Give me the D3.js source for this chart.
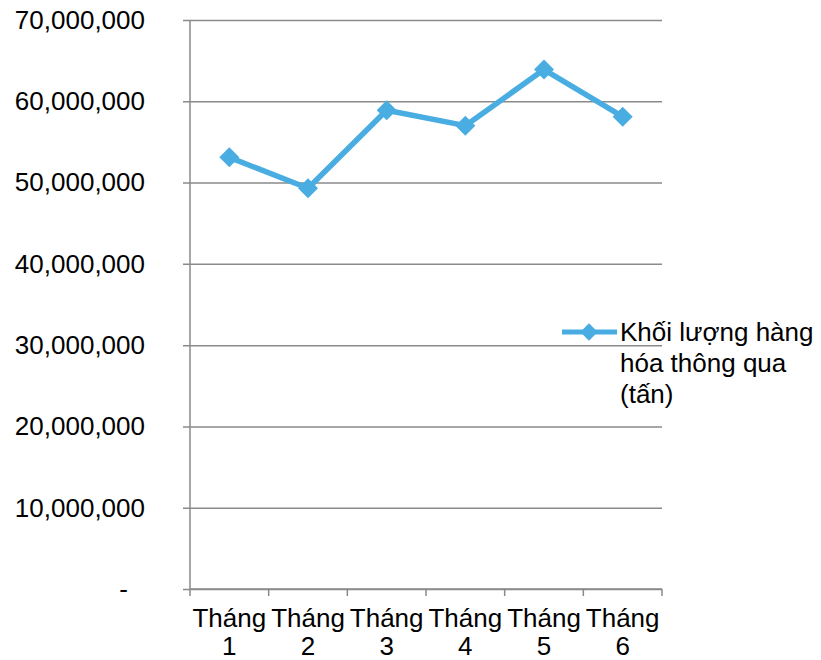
<!DOCTYPE html>
<html>
<head>
<meta charset="utf-8">
<script src="https://cdn.jsdelivr.net/npm/d3@7"></script>
<style>
  body { margin: 0; background: #fff; }
  text { font-family: "Liberation Sans", Arial, sans-serif; fill: #000; }
</style>
</head>
<body>
<div id="chart"></div>
<script>
var months = ["1", "2", "3", "4", "5", "6"];
var tonnage = [53100000, 49300000, 58900000, 57000000, 63900000, 58100000];
var yTicks = [0, 10000000, 20000000, 30000000, 40000000, 50000000, 60000000, 70000000];
var seriesName = ["Khối lượng hàng", "hóa thông qua", "(tấn)"];
var monthWord = "Tháng";

var width = 821, height = 660;
var margin = {top: 20, right: 159, bottom: 71, left: 190},
	chartWidth = width - margin.left - margin.right,
	chartHeight = height - margin.top - margin.bottom;

var blue = "#49ade2", grid = "#8a8a8a";

var svg = d3.select("#chart").append("svg")
	.attr("width", width)
	.attr("height", height);

var g = svg.append("g")
	.attr("transform", "translate(" + margin.left + "," + margin.top + ")");

var x = d3.scaleBand().domain(months).range([0, chartWidth]);
var y = d3.scaleLinear().domain([0, 70000000]).range([chartHeight, 0]);

// gridlines + y axis
var yAxis = g.append("g")
	.attr("class", "y axis")
	.call(d3.axisLeft(y).tickValues(yTicks).tickSizeInner(-chartWidth).tickSizeOuter(0)
		.tickFormat(function(d) { return d === 0 ? "-" : d3.format(",")(d); }));
yAxis.select(".domain").remove();
yAxis.selectAll(".tick line")
	.attr("x1", -7)
	.attr("stroke", grid)
	.attr("stroke-width", 1.5);
yAxis.selectAll(".tick text")
	.attr("x", function(d) { return d === 0 ? -62 : -45; })
	.attr("dy", "0.32em")
	.style("font-size", "26px")
	.style("fill", "#000");

g.append("line")
	.attr("x1", 0).attr("x2", 0)
	.attr("y1", 0).attr("y2", chartHeight)
	.attr("stroke", grid)
	.attr("stroke-width", 1.5);

// x axis
var xAxis = g.append("g")
	.attr("class", "x axis")
	.attr("transform", "translate(0," + chartHeight + ")");
xAxis.append("line")
	.attr("x1", 0).attr("x2", chartWidth)
	.attr("stroke", grid).attr("stroke-width", 1.5);
var edges = [0].concat(months.map(function(m) { return x(m) + x.bandwidth(); }));
xAxis.selectAll(".xtick")
	.data(edges)
  .enter().append("line")
	.attr("class", "xtick")
	.attr("x1", function(d) { return d; }).attr("x2", function(d) { return d; })
	.attr("y1", 0).attr("y2", 7)
	.attr("stroke", grid).attr("stroke-width", 1.5);
var labels = xAxis.selectAll(".xlabel")
	.data(months)
  .enter().append("text")
	.attr("class", "xlabel")
	.attr("text-anchor", "middle")
	.style("font-size", "26px");
labels.append("tspan")
	.attr("x", function(d) { return x(d) + x.bandwidth() / 2; })
	.attr("y", 38)
	.text(monthWord);
labels.append("tspan")
	.attr("x", function(d) { return x(d) + x.bandwidth() / 2; })
	.attr("y", 66)
	.text(function(d) { return d; });

// series line
var line = d3.line()
	.x(function(d, i) { return x(months[i]) + x.bandwidth() / 2; })
	.y(function(d) { return y(d); });

g.append("path")
	.datum(tonnage)
	.attr("fill", "none")
	.attr("stroke", blue)
	.attr("stroke-width", 5.5)
	.attr("stroke-linejoin", "round")
	.attr("d", line);

var diamond = d3.symbol().type(d3.symbolSquare).size(200);
g.selectAll(".marker")
	.data(tonnage)
  .enter().append("path")
	.attr("class", "marker")
	.attr("d", diamond)
	.attr("fill", blue)
	.attr("transform", function(d, i) {
		return "translate(" + (x(months[i]) + x.bandwidth() / 2) + "," + y(d) + ") rotate(45)";
	});

// legend
var legend = svg.append("g")
	.attr("transform", "translate(562,332)");
legend.append("line")
	.attr("x1", 0).attr("x2", 55)
	.attr("stroke", blue).attr("stroke-width", 5);
legend.append("path")
	.attr("d", d3.symbol().type(d3.symbolSquare).size(150))
	.attr("fill", blue)
	.attr("transform", "translate(27,0) rotate(45)");
legend.append("text")
	.style("font-size", "26px")
	.selectAll("tspan")
	.data(seriesName)
  .enter().append("tspan")
	.attr("x", 58)
	.attr("y", function(d, i) { return 9 + i * 31; })
	.text(function(d) { return d; });
</script>
</body>
</html>
